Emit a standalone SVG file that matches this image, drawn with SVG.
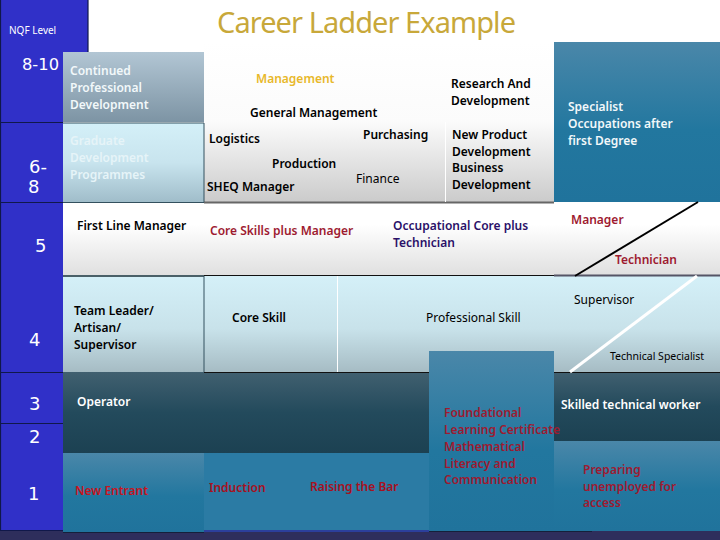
<svg xmlns="http://www.w3.org/2000/svg" width="720" height="540" viewBox="0 0 720 540">
<defs>
<linearGradient id="gSlate" x1="0" y1="0" x2="0" y2="1"><stop offset="0" stop-color="#b2c6d4"/><stop offset="1" stop-color="#7d94a4"/></linearGradient>
<linearGradient id="gIce" x1="0" y1="0" x2="0" y2="1"><stop offset="0" stop-color="#d4f0f8"/><stop offset=".5" stop-color="#c8e4ee"/><stop offset="1" stop-color="#a0bdca"/></linearGradient>
<linearGradient id="gRow4" x1="0" y1="0" x2="0" y2="1"><stop offset="0" stop-color="#d4f0f8"/><stop offset=".55" stop-color="#c8e2ea"/><stop offset="1" stop-color="#a6bcc4"/></linearGradient>
<linearGradient id="gGrey" x1="0" y1="0" x2="0" y2="1"><stop offset="0" stop-color="#ffffff"/><stop offset=".5" stop-color="#fbfbfb"/><stop offset="1" stop-color="#cbcbcb"/></linearGradient>
<linearGradient id="gRow5" x1="0" y1="0" x2="0" y2="1"><stop offset="0" stop-color="#ffffff"/><stop offset=".3" stop-color="#ffffff"/><stop offset="1" stop-color="#e0e0e0"/></linearGradient>
<linearGradient id="gDark" x1="0" y1="0" x2="0" y2="1"><stop offset="0" stop-color="#416070"/><stop offset=".5" stop-color="#234a5c"/><stop offset="1" stop-color="#1c4152"/></linearGradient>
<linearGradient id="gBlue" x1="0" y1="0" x2="0" y2="1"><stop offset="0" stop-color="#4a87a9"/><stop offset=".55" stop-color="#22779f"/><stop offset="1" stop-color="#20739c"/></linearGradient>
</defs>
<style>
text{font-family:"Noto Sans","Open Sans","Liberation Sans",sans-serif;font-size:12px;font-weight:600;fill:#000}
.n{font-family:"DejaVu Sans",sans-serif;font-size:18px;font-weight:400;fill:#fff}
.w{fill:#f2f8fa}.r{fill:#9e1a30}.rb{fill:#a81020}.l{font-weight:400}
.ln{stroke:#10184a;stroke-width:1.2;fill:none}
</style>
<rect width="720" height="540" fill="#fff"/>
<g id="bands">
<rect x="0" y="530" width="720" height="10" fill="#2e2e5c"/>
<rect x="204" y="42" width="350" height="160" fill="url(#gGrey)"/>
<rect x="63" y="52" width="141" height="70" fill="url(#gSlate)"/>
<rect x="63" y="123" width="141" height="79" fill="url(#gIce)"/>
<rect x="63" y="203" width="491" height="72" fill="url(#gRow5)"/>
<rect x="554" y="203" width="166" height="72" fill="url(#gRow5)"/>
<rect x="63" y="276" width="657" height="96" fill="url(#gRow4)"/>
<rect x="63" y="372" width="491" height="81" fill="url(#gDark)"/>
<rect x="554" y="372" width="166" height="69" fill="url(#gDark)"/>
<rect x="63" y="453" width="141" height="79" fill="url(#gBlue)"/>
<rect x="204" y="453" width="225" height="77" fill="#2b7ba4"/>
<rect x="204" y="530" width="225" height="2" fill="#2c3f9c"/>
<rect x="429" y="351" width="125" height="181" fill="url(#gBlue)"/>
<rect x="554" y="441" width="166" height="90" fill="url(#gBlue)"/>
<rect x="554" y="42" width="166" height="160" fill="url(#gBlue)"/>
</g>
<g id="nqf">
<rect x="0" y="0" width="88" height="52" fill="#3030c8"/>
<rect x="0" y="52" width="63" height="478" fill="#3030c8"/>
<path class="ln" d="M88 0V52M0 122.500H63M0 202.500H63M0 372.500H63M0 423.500H63M0 530.500H63M0.500 0V530"/>
<text x="9" y="34" style="font-size:10px;font-weight:400;fill:#fff">NQF Level</text>
<text class="n" x="22" y="70" textLength="37" lengthAdjust="spacingAndGlyphs" style="font-size:16px">8-10</text>
<text class="n" x="29" y="173">6-</text>
<text class="n" x="28" y="193">8</text>
<text class="n" x="35" y="252">5</text>
<text class="n" x="29" y="346">4</text>
<text class="n" x="29" y="410">3</text>
<text class="n" x="29" y="443">2</text>
<text class="n" x="28" y="500">1</text>
</g>
<g id="connectors">
<path d="M204 202.500H554" stroke="#666" stroke-width="2" fill="none"/>
<path d="M554 275.500H720" stroke="#556" stroke-width="2" fill="none"/>
<path d="M63 276H204" stroke="#4a6068" stroke-width="2" fill="none"/>
<path d="M204 275.500H554M204 372.500H429M554 372.500H720" stroke="#111" stroke-width="1" fill="none"/>
<path d="M63 123H204M204 123V202M63 202.500H204M204 276V372" stroke="#33505e" stroke-width="1" fill="none"/>
<path d="M63 532.500H204M429 531.500H592" stroke="#15203a" stroke-width="1" fill="none"/>
<path d="M445.500 122V202M337.500 276V372" stroke="#fff" stroke-width="1" fill="none"/>
<path d="M698 202L575 276" stroke="#000" stroke-width="2" fill="none"/>
<path d="M697 276L570 372" stroke="#fff" stroke-width="3" fill="none"/>
</g>
<g id="title"><text x="217" y="33" textLength="299" style="font-size:29px;font-weight:400;fill:#c8a83a">Career Ladder Example</text></g>
<g id="labels">
<text class="w" x="70" y="75">Continued</text><text class="w" x="70" y="92">Professional</text><text class="w" x="70" y="109">Development</text>
<text x="70" y="145" style="fill:#e6f4f8">Graduate</text><text x="70" y="162" style="fill:#e6f4f8">Development</text><text x="70" y="179" style="fill:#e6f4f8">Programmes</text>
<text x="256" y="83" style="fill:#e8b82a">Management</text>
<text x="250" y="117">General Management</text>
<text x="209" y="143">Logistics</text>
<text x="272" y="168">Production</text>
<text x="207" y="191">SHEQ Manager</text>
<text x="363" y="139">Purchasing</text>
<text class="l" x="356" y="183">Finance</text>
<text x="451" y="88">Research And</text><text x="451" y="105">Development</text>
<text x="452" y="139">New Product</text><text x="452" y="156">Development</text><text x="452" y="172">Business</text><text x="452" y="189">Development</text>
<text class="w" x="568" y="111">Specialist</text><text class="w" x="568" y="128">Occupations after</text><text class="w" x="568" y="145">first Degree</text>
<text x="77" y="230">First Line Manager</text>
<text class="r" x="210" y="235">Core Skills plus Manager</text>
<text x="393" y="230" style="fill:#2a1068">Occupational Core plus</text><text x="393" y="247" style="fill:#2a1068">Technician</text>
<text class="r" x="571" y="224">Manager</text>
<text class="r" x="615" y="264">Technician</text>
<text x="74" y="315">Team Leader/</text><text x="74" y="332">Artisan/</text><text x="74" y="349">Supervisor</text>
<text x="232" y="322">Core Skill</text>
<text class="l" x="426" y="322">Professional Skill</text>
<text class="l" x="574" y="304">Supervisor</text>
<text class="l" x="610" y="360" style="font-size:10.500px">Technical Specialist</text>
<text x="77" y="406" style="fill:#fff">Operator</text>
<text x="561" y="409" style="fill:#fff">Skilled technical worker</text>
<text class="r" x="444" y="417">Foundational</text><text class="r" x="444" y="434">Learning Certificate</text><text class="r" x="444" y="451">Mathematical</text><text class="r" x="444" y="468">Literacy and</text><text class="r" x="444" y="484">Communication</text>
<text class="rb" x="75" y="495" style="fill:#c81420">New Entrant</text>
<text class="rb" x="209" y="492">Induction</text>
<text class="rb" x="310" y="491">Raising the Bar</text>
<text class="r" x="583" y="474">Preparing</text><text class="r" x="583" y="491">unemployed for</text><text class="r" x="583" y="507">access</text>
</g>
</svg>
